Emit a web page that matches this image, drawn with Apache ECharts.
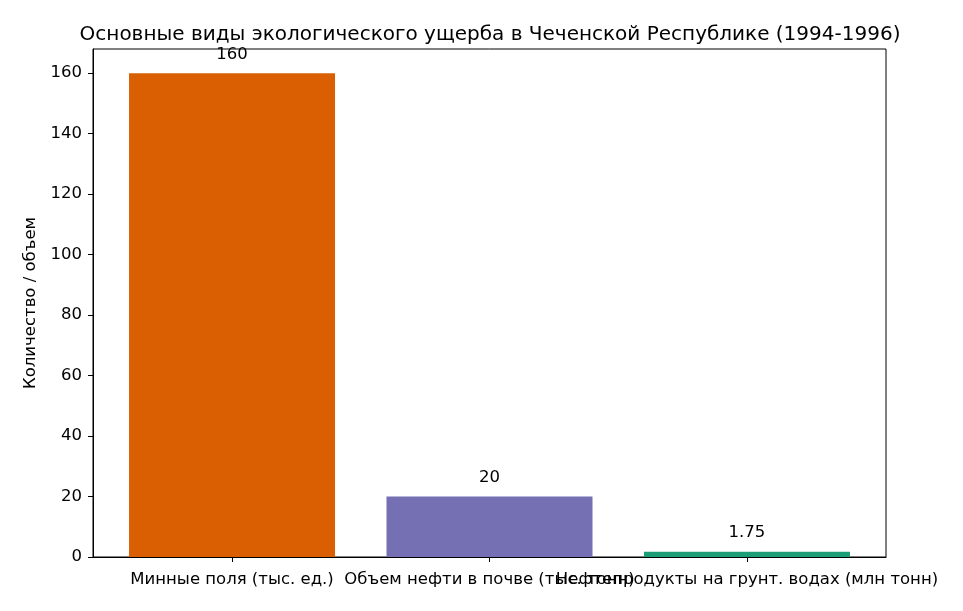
<!DOCTYPE html>
<html>
<head>
<meta charset="utf-8">
<script src="https://cdn.jsdelivr.net/npm/echarts@6/dist/echarts.min.js"></script>
<style>
  html, body { margin: 0; padding: 0; background: #fff; }
  #chart { width: 963px; height: 611px; }
</style>
</head>
<body>
<div id="chart"></div>
<script>
var categories = [
  'Минные поля (тыс. ед.)',
  'Объем нефти в почве (тыс. тонн)',
  'Нефтепродукты на грунт. водах (млн тонн)'
];
var values = [160, 20, 1.75];
var barColors = ['#d95f02', '#7570b3', '#1b9e77'];
var labelTexts = ['160', '20', '1.75'];

(function() {
  var font = 'DejaVu Sans';
  var chart = echarts.init(document.getElementById('chart'), null, { renderer: 'canvas' });

  var data = values.map(function(v, i) {
    return { value: [i, v], itemStyle: { color: barColors[i] } };
  });
  var positions = categories.map(function(c, i) { return i; });
  // the long labels overlap, ECharts would hide some, so odd and even go on two stacked axes
  var evenPos = positions.filter(function(p) { return p % 2 === 0; });
  var oddPos = positions.filter(function(p) { return p % 2 === 1; });

  function xAxisDef(labelPos, visibleLine) {
    return {
      type: 'value',
      position: 'bottom',
      min: -0.54,
      max: 2.54,
      splitLine: { show: false },
      axisLine: { show: visibleLine, onZero: false, lineStyle: { color: '#000', width: 1 } },
      axisTick: { show: true, length: 5, lineStyle: { color: '#000' }, customValues: labelPos },
      axisLabel: {
        customValues: labelPos,
        showMinLabel: true,
        showMaxLabel: true,
        margin: 14,
        fontSize: 16.5,
        color: '#000',
        fontFamily: font,
        formatter: function(v) { return categories[Math.round(v)]; }
      }
    };
  }

  chart.setOption({
    animation: false,
    backgroundColor: '#fff',
    textStyle: { fontFamily: font },
    title: {
      text: 'Основные виды экологического ущерба в Чеченской Республике (1994-1996)',
      left: 485,
      top: 20,
      textAlign: 'center',
      textStyle: { fontFamily: font, fontSize: 20, fontWeight: 'normal', color: '#000' }
    },
    grid: {
      left: 93, right: 77, top: 49, bottom: 54,
      show: true, borderColor: '#000', borderWidth: 1
    },
    xAxis: [xAxisDef(evenPos, true), xAxisDef(oddPos, false)],
    yAxis: {
      type: 'value',
      min: 0,
      max: 168,
      interval: 20,
      name: 'Количество / объем',
      nameLocation: 'middle',
      nameGap: 49,
      nameTextStyle: { fontSize: 16.5, color: '#000', fontFamily: font },
      splitLine: { show: false },
      axisLine: { show: true, onZero: false, lineStyle: { color: '#000', width: 1 } },
      axisTick: { show: true, length: 5, lineStyle: { color: '#000' } },
      axisLabel: {
        margin: 11,
        fontSize: 16.5,
        color: '#000',
        fontFamily: font,
        showMaxLabel: false
      }
    },
    series: [{
      type: 'bar',
      xAxisIndex: 0,
      data: data,
      barWidth: 206,
      label: {
        show: true,
        position: 'top',
        distance: 10,
        fontSize: 16.5,
        color: '#000',
        fontFamily: font,
        formatter: function(p) { return labelTexts[p.dataIndex]; }
      }
    }]
  });
  window.addEventListener('resize', function() { chart.resize(); });
})();
</script>
</body>
</html>
